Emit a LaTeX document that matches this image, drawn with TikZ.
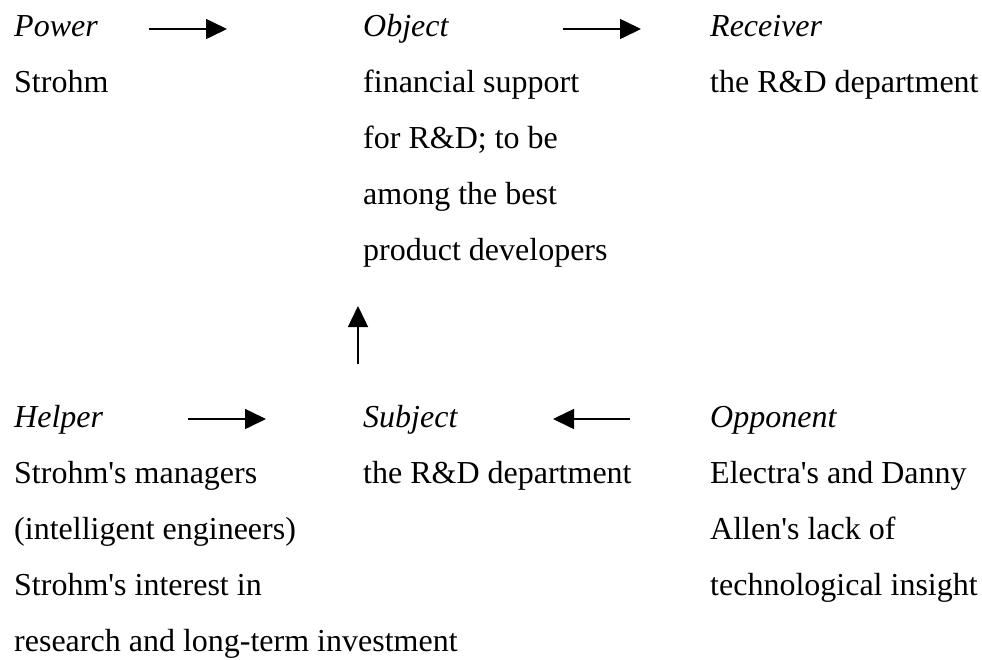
\documentclass[tikz,border=0pt]{standalone}
\usepackage{fontspec}
\setmainfont{Liberation Serif}
\usetikzlibrary{arrows.meta}
% a block of left-aligned lines whose reference point is the first baseline
\newcommand{\textblock}[1]{\begin{tabular}[t]{@{}l@{}}#1\end{tabular}}
\newcommand{\apos}{\textquotesingle}
\begin{document}
\begin{tikzpicture}[x=1pt,y=-1pt,
  txt/.style={anchor=base west,inner sep=0pt,
    font=\fontsize{32}{56}\selectfont},
  role/.style={txt,font=\fontsize{32}{56}\selectfont\itshape},
  flow/.style={line width=1.6pt,-{Triangle[length=21pt,width=20pt]}}]
\useasboundingbox (0,0) rectangle (982,659);

% upper row
\node[role] (power) at (14,36) {Power};
\node[txt] (powertxt) at (14,92) {Strohm};
\node[role] (object) at (363,36) {Object};
\node[txt] (objecttxt) at (363,92) {\textblock{financial support\\for R\&D; to be\\among the best\\product developers}};
\node[role] (receiver) at (710,36) {Receiver};
\node[txt] (receivertxt) at (710,92) {the R\&D department};

% lower row
\node[role] (helper) at (14,427) {Helper};
\node[txt] (helpertxt) at (14,483) {\textblock{Strohm\apos s managers\\(intelligent engineers)\\Strohm\apos s interest in\\research and long-term investment}};
\node[role] (subject) at (363,427) {Subject};
\node[txt] (subjecttxt) at (363,483) {the R\&D department};
\node[role] (opponent) at (710,427) {Opponent};
\node[txt] (opponenttxt) at (710,483) {\textblock{Electra\apos s and Danny\\Allen\apos s lack of\\technological insight}};

% arrow end points
\coordinate (p1) at (149,29);  \coordinate (p2) at (227,29);
\coordinate (o1) at (563,29);  \coordinate (o2) at (641,29);
\coordinate (h1) at (188,419); \coordinate (h2) at (266,419);
\coordinate (n1) at (630,419); \coordinate (n2) at (553,419);
\coordinate (s1) at (358,364); \coordinate (s2) at (358,306);

\draw[flow] (p1) -- (p2);
\draw[flow] (o1) -- (o2);
\draw[flow] (h1) -- (h2);
\draw[flow] (n1) -- (n2);
\draw[flow] (s1) -- (s2);
\end{tikzpicture}
\end{document}
